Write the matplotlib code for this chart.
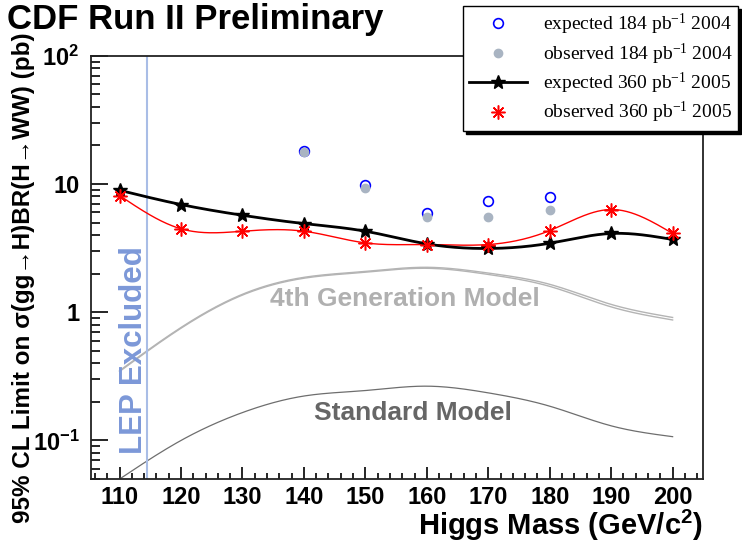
import numpy as np
import matplotlib
matplotlib.use('Agg')
import matplotlib.pyplot as plt
from matplotlib.lines import Line2D
from matplotlib.ticker import FixedLocator, MultipleLocator, LogLocator, NullFormatter

plt.rcParams['font.family'] = ['Liberation Sans', 'DejaVu Sans']
plt.rcParams['mathtext.fontset'] = 'custom'

# data
mass = [110, 120, 130, 140, 150, 160, 170, 180, 190, 200]
exp_2005 = [8.93, 6.91, 5.70, 4.91, 4.28, 3.41, 3.14, 3.45, 4.11, 3.69]
obs_2005 = [8.12, 4.47, 4.28, 4.28, 3.47, 3.37, 3.37, 4.33, 6.32, 4.11]

mass_2004 = [140, 150, 160, 170, 180]
exp_2004 = [18.0, 9.77, 5.95, 7.33, 7.93]
obs_2004 = [17.7, 9.33, 5.54, 5.54, 6.32]

sm_xsec = [0.050, 0.100, 0.165, 0.222, 0.245, 0.265, 0.235, 0.185, 0.130, 0.107]
fourth_hi = [0.35, 0.76, 1.38, 1.87, 2.08, 2.24, 2.02, 1.65, 1.15, 0.91]
fourth_lo = [0.345, 0.75, 1.36, 1.84, 2.05, 2.20, 1.97, 1.59, 1.10, 0.87]

lep_limit = 114.4


def smooth(x, y, n=400):
    # natural cubic spline in log10(y), like ROOT's "C" drawing option
    x = np.asarray(x, float)
    a = np.log10(np.asarray(y, float))
    h = np.diff(x)
    k = len(x)
    A = np.zeros((k, k))
    r = np.zeros(k)
    A[0, 0] = A[-1, -1] = 1
    for i in range(1, k - 1):
        A[i, i - 1] = h[i - 1]
        A[i, i] = 2 * (h[i - 1] + h[i])
        A[i, i + 1] = h[i]
        r[i] = 3 * ((a[i + 1] - a[i]) / h[i] - (a[i] - a[i - 1]) / h[i - 1])
    c = np.linalg.solve(A, r)
    b = (a[1:] - a[:-1]) / h - h * (2 * c[:-1] + c[1:]) / 3
    d = (c[1:] - c[:-1]) / (3 * h)
    xs = np.linspace(x[0], x[-1], n)
    idx = np.clip(np.searchsorted(x, xs) - 1, 0, k - 2)
    dx = xs - x[idx]
    ys = a[idx] + b[idx] * dx + c[idx] * dx ** 2 + d[idx] * dx ** 3
    return xs, 10 ** ys


fig = plt.figure(figsize=(7.42, 5.5), dpi=100)
ax = fig.add_axes([0.1222, 0.129, 0.8257, 0.7697])

# theory curves
xs, ys = smooth(mass, fourth_hi)
ax.plot(xs, ys, color='#b4b4b4', lw=1.0)
xs, ys = smooth(mass, fourth_lo)
ax.plot(xs, ys, color='#b4b4b4', lw=1.0)
xs, ys = smooth(mass, sm_xsec)
ax.plot(xs, ys, color='#6e6e6e', lw=0.9)

# LEP
ax.axvline(lep_limit, color='#a9bde6', lw=1.5)
ax.text(112.4, 0.51, 'LEP Excluded', rotation=90, color='#7c98d8',
        fontsize=22.5, fontweight='bold', ha='center', va='center')

ax.text(156.4, 1.26, '4th Generation Model', color='#b0b0b0', fontsize=19,
        fontweight='bold', ha='center', va='center')
ax.text(157.7, 0.165, 'Standard Model', color='#666666', fontsize=19,
        fontweight='bold', ha='center', va='center')

# 2005 limits
xs, ys = smooth(mass, obs_2005)
ax.plot(xs, ys, color='red', lw=1.0)
xs, ys = smooth(mass, exp_2005)
ax.plot(xs, ys, color='black', lw=2.0)
ax.plot(mass, exp_2005, ls='none', marker='*', color='black', ms=10)
ax.plot(mass, obs_2005, ls='none', marker=(8, 2, 0), color='red', ms=10, mew=1.1)

# 2004 limits
ax.plot(mass_2004, exp_2004, ls='none', marker='o', mfc='none', mec='blue', ms=7, mew=1.2)
ax.plot(mass_2004, obs_2004, ls='none', marker='o', color='#a9b4c2', ms=6)

ax.set_yscale('log')
ax.set_xlim(105.3, 205)
ax.set_ylim(0.05, 100)

ax.xaxis.set_major_locator(MultipleLocator(10))
ax.xaxis.set_minor_locator(MultipleLocator(2))
ax.yaxis.set_major_locator(FixedLocator([0.1, 1, 10, 100]))
ax.yaxis.set_minor_locator(LogLocator(base=10, subs=np.arange(2, 10)))
ax.yaxis.set_minor_formatter(NullFormatter())
ax.set_yticklabels([r'10$\mathregular{^{-1}}$', '1', '10', r'10$\mathregular{^{2}}$'])

ax.tick_params(which='both', direction='in', top=False, right=False, width=1.2)
ax.tick_params(axis='x', which='major', length=9, pad=5)
ax.tick_params(axis='x', which='minor', length=4.5)
ax.tick_params(axis='y', which='major', length=12.5, pad=8)
ax.tick_params(axis='y', which='minor', length=6.5)
for lab in ax.get_xticklabels() + ax.get_yticklabels():
    lab.set_fontweight('bold')
    lab.set_fontsize(17)
    lab.set_family(['Liberation Sans Narrow', 'Liberation Sans'])
for sp in ax.spines.values():
    sp.set_linewidth(1.3)
    sp.set_color('#222222')

fig.text(0.010, 1 - 19 / 550, 'CDF Run II Preliminary', fontsize=25,
         fontweight='bold', ha='left', va='center')
fig.text(703 / 742, 1 - 525 / 550, r'Higgs Mass (GeV/c$\mathregular{^{2}}$)', fontsize=21,
         fontweight='bold', ha='right', va='center')
fig.text(24 / 742, 1 - 278 / 550, '95% CL Limit on σ(gg→H)BR(H→WW) (pb)',
         fontsize=17.5, fontweight='bold', rotation=90, ha='center', va='center')

handles = [
    Line2D([], [], ls='none', marker='o', mfc='none', mec='blue', ms=7, mew=1.2),
    Line2D([], [], ls='none', marker='o', color='#a9b4c2', ms=6),
    Line2D([], [], color='black', lw=2, marker='*', ms=10),
    Line2D([], [], ls='none', marker=(8, 2, 0), color='red', ms=10, mew=1.1),
]
labels = [r'expected 184 pb$\mathregular{^{-1}}$ 2004',
          r'observed 184 pb$\mathregular{^{-1}}$ 2004',
          r'expected 360 pb$\mathregular{^{-1}}$ 2005',
          r'observed 360 pb$\mathregular{^{-1}}$ 2005']
leg = fig.legend(handles, labels, loc='upper right', bbox_to_anchor=(738 / 742, 1 - 6 / 550),
                 prop={'family': 'Liberation Serif', 'size': 14}, frameon=True, fancybox=False,
                 shadow={'color': 'black', 'alpha': 1}, borderaxespad=0, handlelength=3.0,
                 labelspacing=0.22, borderpad=0.3, handletextpad=0.8)
leg.get_frame().set_edgecolor('black')
leg.get_frame().set_linewidth(1.0)

fig.savefig('out.png', dpi=100)
